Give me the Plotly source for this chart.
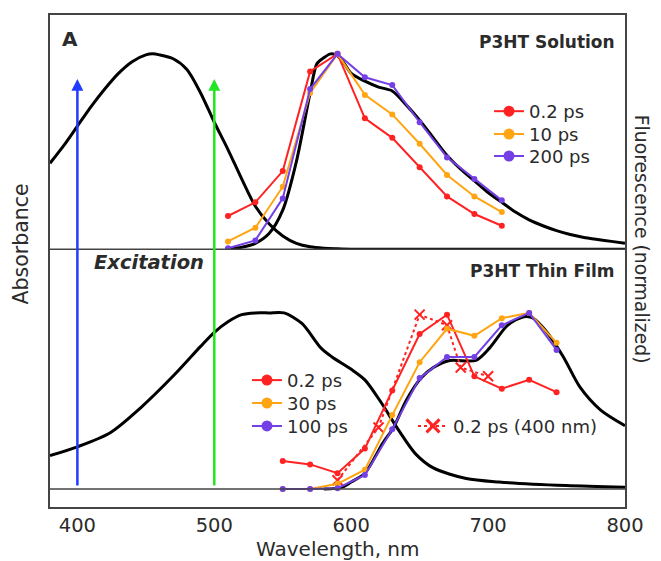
import plotly.graph_objects as go

# ---------------- data ----------------
# Top panel: P3HT solution
sol_abs_wl = [380, 390, 400, 410, 420, 430, 440, 450, 455, 460, 470, 480, 490, 500, 510, 520, 530, 540, 550, 560, 570, 580, 590, 600, 620, 650, 700, 750, 800]
sol_abs = [0.44, 0.53, 0.63, 0.73, 0.82, 0.90, 0.96, 0.995, 1.0, 0.995, 0.975, 0.92, 0.80, 0.65, 0.51, 0.36, 0.22, 0.13, 0.068, 0.03, 0.012, 0.005, 0.002, 0.0, 0.0, 0.0, 0.0, 0.0, 0.0]

sol_fl_wl = [510, 520, 530, 540, 550, 560, 570, 575, 580, 585, 590, 595, 600, 610, 620, 630, 640, 650, 660, 670, 680, 690, 700, 710, 720, 730, 740, 750, 760, 770, 780, 790, 800]
sol_fl = [0.0, 0.01, 0.03, 0.08, 0.2, 0.45, 0.80, 0.95, 0.98, 1.0, 0.99, 0.95, 0.90, 0.86, 0.83, 0.81, 0.74, 0.66, 0.57, 0.48, 0.41, 0.35, 0.29, 0.24, 0.19, 0.15, 0.12, 0.095, 0.075, 0.06, 0.05, 0.04, 0.03]

sol_wl = [510, 530, 550, 570, 590, 610, 630, 650, 670, 690, 710]
sol_02ps = [0.17, 0.24, 0.40, 0.91, 1.0, 0.67, 0.57, 0.42, 0.27, 0.18, 0.12]
sol_10ps = [0.04, 0.11, 0.32, 0.80, 1.0, 0.79, 0.69, 0.54, 0.38, 0.27, 0.19]
sol_200ps = [0.005, 0.045, 0.26, 0.82, 1.0, 0.88, 0.84, 0.65, 0.47, 0.36, 0.25]

# Bottom panel: P3HT thin film
film_abs_wl = [380, 400, 424, 446, 471, 490, 500, 510, 520, 530, 540, 551, 564, 578, 586, 600, 610, 622, 635, 647, 660, 684, 708, 757, 800]
film_abs = [0.19, 0.24, 0.32, 0.46, 0.65, 0.81, 0.89, 0.95, 0.99, 1.0, 1.0, 1.0, 0.94, 0.80, 0.75, 0.68, 0.62, 0.49, 0.33, 0.20, 0.12, 0.06, 0.04, 0.02, 0.01]

film_fl_wl = [580, 593, 600, 610, 623, 631, 640, 651, 660, 672, 691, 701, 713, 720, 728, 733, 742, 755, 767, 782, 800]
film_fl = [0.0, 0.01, 0.04, 0.09, 0.26, 0.35, 0.50, 0.63, 0.69, 0.73, 0.73, 0.80, 0.92, 0.96, 0.98, 0.97, 0.90, 0.75, 0.58, 0.45, 0.36]

film_wl = [550, 570, 590, 610, 630, 650, 670, 690, 710, 730, 750]
film_02ps = [0.16, 0.14, 0.09, 0.23, 0.56, 0.88, 0.99, 0.64, 0.57, 0.62, 0.55]
film_30ps = [0.0, 0.0, 0.03, 0.11, 0.42, 0.72, 0.91, 0.87, 0.97, 1.0, 0.83]
film_100ps = [0.0, 0.0, 0.005, 0.08, 0.34, 0.63, 0.75, 0.75, 0.93, 1.0, 0.79]

film400_wl = [590, 620, 650, 670, 680, 700]
film400_02ps = [0.05, 0.35, 0.99, 0.93, 0.69, 0.64]

excitation_wl = [400, 500]
x_ticks = [400, 500, 600, 700, 800]

# ---------------- styling ----------------
RED = "#ff2222"
ORANGE = "#ffa514"
PURPLE = "#7440e6"
TXT = "#2b2b2b"
AX = "#444444"
FONT = "DejaVu Sans, Liberation Sans, sans-serif"

fig = go.Figure()

def series(x, y, color, yaxis, dash="solid", symbol="circle", size=6, lw=0):
    fig.add_trace(go.Scatter(x=x, y=y, mode="lines+markers", yaxis=yaxis,
                             line=dict(color=color, width=2, dash=dash),
                             marker=dict(color=color, size=size, symbol=symbol,
                                         line=dict(color=color, width=lw)),
                             showlegend=False, hoverinfo="skip"))

def black(x, y, yaxis):
    fig.add_trace(go.Scatter(x=x, y=y, mode="lines", yaxis=yaxis,
                             line=dict(color="black", width=3, shape="spline", smoothing=0.8),
                             showlegend=False, hoverinfo="skip"))

# top panel (y3)
black(sol_abs_wl, sol_abs, "y3")
black(sol_fl_wl, sol_fl, "y3")
series(sol_wl, sol_02ps, RED, "y3")
series(sol_wl, sol_10ps, ORANGE, "y3")
series(sol_wl, sol_200ps, PURPLE, "y3")

# bottom panel (y2)
black(film_abs_wl, film_abs, "y2")
black(film_fl_wl, film_fl, "y2")
series(film400_wl, film400_02ps, RED, "y2", dash="dot", symbol="x-thin-open", size=10, lw=2)
series(film_wl, film_02ps, RED, "y2")
series(film_wl, film_30ps, ORANGE, "y2")
series(film_wl, film_100ps, PURPLE, "y2")

# legend entries: one legend per entry so the row spacing can match
legfont = dict(family=FONT, size=18, color=TXT)
entries = [
    # name, color, dash, symbol, size, lw, x(paper), y-top(paper)
    ("0.2 ps", RED, "solid", "circle", 11, 0, 0.7635, 0.8415),
    ("10 ps", ORANGE, "solid", "circle", 11, 0, 0.7635, 0.7950),
    ("200 ps", PURPLE, "solid", "circle", 11, 0, 0.7635, 0.7504),
    ("0.2 ps", RED, "solid", "circle", 11, 0, 0.3425, 0.2949),
    ("30 ps", ORANGE, "solid", "circle", 11, 0, 0.3425, 0.2484),
    ("100 ps", PURPLE, "solid", "circle", 11, 0, 0.3425, 0.2018),
    ("0.2 ps (400 nm)", RED, "dot", "x-thin-open", 13, 3, 0.6313, 0.2018),
]
legend_layout = {}
for i, (name, color, dash, symbol, size, lw, lx, ly) in enumerate(entries):
    key = "legend" if i == 0 else f"legend{i + 1}"
    fig.add_trace(go.Scatter(x=[None], y=[None], mode="lines+markers", name=name,
                             line=dict(color=color, width=2, dash=dash),
                             marker=dict(color=color, size=size, symbol=symbol,
                                         line=dict(color=color, width=lw)),
                             legend=key, yaxis="y"))
    legend_layout[key] = dict(x=lx, y=ly, xanchor="left", yanchor="top", font=legfont,
                              bgcolor="rgba(0,0,0,0)", borderwidth=0)

# the page body has an 8px margin; width/height/margins compensate so the
# plot frame sits at x 50..625, y 13..507 in the 661x561 window
fig.update_layout(
    width=653, height=553,
    margin=dict(l=42, r=36, t=5, b=54),
    paper_bgcolor="white", plot_bgcolor="white",
    font=dict(family=FONT, size=18, color=TXT),
    xaxis=dict(range=[380, 800], tickvals=x_ticks, ticks="inside", ticklen=5,
               tickwidth=1.5, tickcolor=AX, showline=True, linecolor=AX,
               linewidth=1.5, mirror="ticks", showgrid=False, zeroline=False,
               anchor="y", tickfont=dict(family=FONT, size=19.5, color=TXT)),
    yaxis=dict(domain=[0, 1], range=[0, 1], showline=True, linecolor=AX,
               linewidth=1.5, mirror=True, showticklabels=False, ticks="",
               showgrid=False, zeroline=False),
    yaxis2=dict(domain=[0, 0.524], range=[-0.1017, 1.3616], anchor="x",
                visible=False),
    yaxis3=dict(domain=[0.524, 1], range=[0, 1.199], anchor="x",
                visible=False),
    showlegend=True,
    **legend_layout,
)

# panel divider and bottom-panel baseline
fig.add_shape(type="line", xref="paper", yref="paper", x0=0, x1=1, y0=0.524, y1=0.524,
              line=dict(color=AX, width=1.5))
fig.add_shape(type="line", xref="paper", yref="y2", x0=0, x1=1, y0=0, y1=0,
              line=dict(color=AX, width=1.5))

# excitation arrows
for wl, col in zip(excitation_wl, ["#1f3cff", "#22e622"]):
    fig.add_annotation(x=wl, y=0.870, xref="x", yref="paper", text="", showarrow=True,
                       ax=0, ay=408, arrowhead=2, arrowsize=0.95, arrowwidth=2.5,
                       arrowcolor=col)

texts = [
    dict(text="<b>A</b>", x=0.035, y=0.951, xanchor="center", size=20),
    dict(text="<b>P3HT Solution</b>", x=0.986, y=0.945, xanchor="right", size=17),
    dict(text="<b>P3HT Thin Film</b>", x=0.986, y=0.480, xanchor="right", size=17),
    dict(text="<b><i>Excitation</i></b>", x=0.172, y=0.496, xanchor="center", size=19.5),
]
for t in texts:
    fig.add_annotation(text=t["text"], x=t["x"], y=t["y"], xref="paper", yref="paper",
                       xanchor=t["xanchor"], yanchor="middle", showarrow=False,
                       font=dict(family=FONT, size=t["size"], color=TXT))

fig.add_annotation(text="Absorbance", x=-0.05, y=0.534, xref="paper", yref="paper",
                   textangle=-90, showarrow=False, xanchor="center", yanchor="middle",
                   font=dict(family=FONT, size=20.5, color=TXT))
fig.add_annotation(text="Fluorescence (normalized)", x=1.028, y=0.545, xref="paper", yref="paper",
                   textangle=90, showarrow=False, xanchor="center", yanchor="middle",
                   font=dict(family=FONT, size=18.8, color=TXT))
fig.add_annotation(text="Wavelength, nm", x=0.5, y=-0.085, xref="paper", yref="paper",
                   showarrow=False, xanchor="center", yanchor="middle",
                   font=dict(family=FONT, size=20, color=TXT))

fig.write_html("out.html")
